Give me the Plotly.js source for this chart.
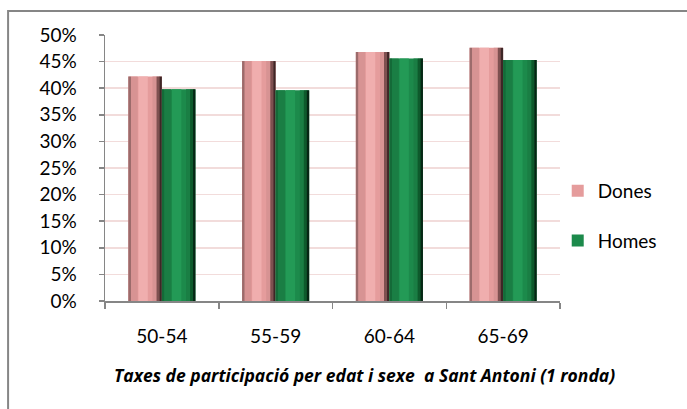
<!DOCTYPE html>
<html>
<head>
<meta charset="utf-8">
<script src="https://cdn.plot.ly/plotly-3.0.1.min.js"></script>
<style>html,body{margin:0;padding:0;background:#fff;}#chart{width:687px;height:409px;}</style>
</head>
<body>
<div id="chart"></div>
<script>
var categories = ["50-54", "55-59", "60-64", "65-69"];
var dones = [42.2, 45.1, 46.8, 47.6];
var homes = [39.8, 39.6, 45.6, 45.3];
var yTickVals = [0, 5, 10, 15, 20, 25, 30, 35, 40, 45, 50];
var yTickText = ["0%", "5%", "10%", "15%", "20%", "25%", "30%", "35%", "40%", "45%", "50%"];
var chartTitle = "Taxes de participació per edat i sexe  a Sant Antoni (1 ronda)";

var FONT = "Lato, 'Open Sans', sans-serif";
var W = 0.295;

function barSet(name, vals, off, shades, grp) {
  var traces = [];
  traces.push({type: "bar", name: name, x: categories, y: vals, width: W, offset: off,
    marker: {color: shades[0], line: {width: 0}}, legendgroup: grp, showlegend: true, hoverinfo: "y"});
  var strips = [
    [0, 0.08, shades[1]],
    [0.08, 0.2, shades[4]],
    [0.3, 0.28, shades[2]],
    [0.72, 0.12, shades[4]],
    [0.84, 0.1, shades[3]],
    [0.93, 0.07, shades[5]]
  ];
  strips.forEach(function (s) {
    traces.push({type: "bar", x: categories, y: vals, width: W * s[1], offset: off + W * s[0],
      marker: {color: s[2], line: {width: 0}}, legendgroup: grp, showlegend: false, hoverinfo: "skip"});
  });
  return traces;
}

var data = [].concat(
  barSet("Dones", dones, -W, ["#E59C9C", "#9C6B6B", "#F0AEAE", "#7E5050", "#D79393", "#3E2626"], "d"),
  barSet("Homes", homes, 0, ["#1C8A4B", "#146A38", "#239A56", "#0E5A2C", "#1A7E44", "#062614"], "h")
);

var layout = {
  width: 687, height: 409,
  margin: {l: 105, r: 127, t: 35, b: 108},
  paper_bgcolor: "#ffffff", plot_bgcolor: "#ffffff",
  barmode: "overlay",
  font: {family: FONT, size: 19, color: "#000"},
  showlegend: true,
  legend: {x: 0.995, y: 0.32, xanchor: "left", yanchor: "middle", tracegroupgap: 22,
    font: {family: FONT, size: 19, color: "#000"}, bgcolor: "rgba(0,0,0,0)"},
  xaxis: {type: "category", showgrid: false, showline: true, linecolor: "#868686", linewidth: 1.5,
    ticks: "outside", tickson: "boundaries", ticklen: 6, tickcolor: "#868686", tickwidth: 1.5,
    ticklabelstandoff: 18, tickfont: {family: FONT, size: 19}, zeroline: false, fixedrange: true},
  yaxis: {range: [0, 50], tickmode: "array", tickvals: yTickVals, ticktext: yTickText,
    showgrid: true, gridcolor: "#F2DCDB", gridwidth: 1.5,
    showline: true, linecolor: "#868686", linewidth: 1.5, ticks: "outside", ticklen: 5, tickcolor: "#868686", tickwidth: 1.5,
    ticklabelstandoff: 18, tickfont: {family: FONT, size: 19}, zeroline: false, fixedrange: true},
  annotations: [{text: "<b><i>" + chartTitle + "</i></b>", xref: "paper", yref: "paper", x: 0.571, y: -0.278,
    xanchor: "center", yanchor: "middle", showarrow: false,
    font: {family: "'Open Sans', sans-serif", size: 17.5, color: "#000", weight: 700, style: "italic"}}],
  shapes: [{type: "rect", xref: "paper", yref: "paper", layer: "above",
    x0: -0.213, x1: 1.3, y0: -0.5, y1: 1.09, line: {color: "#868686", width: 2}}]
};

Plotly.newPlot("chart", data, layout, {displayModeBar: false, staticPlot: true});
</script>
</body>
</html>
